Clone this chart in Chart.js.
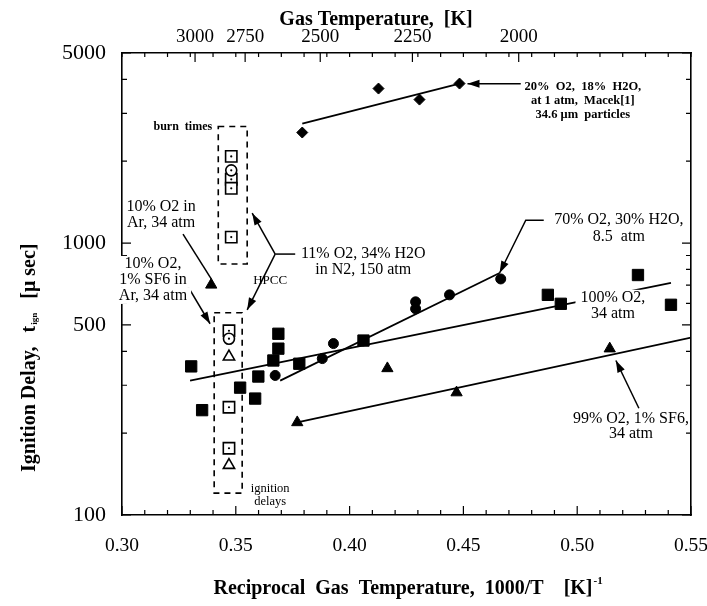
<!DOCTYPE html>
<html>
<head>
<meta charset="utf-8">
<script src="https://cdn.jsdelivr.net/npm/chart.js@4/dist/chart.umd.min.js"></script>
<style>
html,body{margin:0;padding:0;background:#fff;}
#wrap{width:707px;height:606px;position:relative;}
</style>
</head>
<body>
<div id="wrap"><canvas id="c" width="707" height="606"></canvas></div>
<script>
// ---------------- DATA ----------------
// 20% O2, 18% H2O, 1 atm, Macek [1] (filled diamonds)
const macekX = [0.3792, 0.4127, 0.4307, 0.4483];
const macekY = [2550, 3700, 3370, 3860];
const macekFitX = [0.3792, 0.4483];
const macekFitY = [2750, 3860];

// 70% O2, 30% H2O, 8.5 atm (filled circles)
const h2oX = [0.3673, 0.3880, 0.3929, 0.4061, 0.4290, 0.4290, 0.4439, 0.4664];
const h2oY = [326, 376, 427, 437, 608, 573, 645, 738];
const h2oFitX = [0.3695, 0.4659];
const h2oFitY = [312, 776];

// 100% O2, 34 atm (filled squares)
const o2X = [0.3304, 0.3352, 0.3519, 0.3585, 0.3599, 0.3665, 0.3687, 0.3687, 0.3779, 0.4061, 0.4871, 0.4928, 0.5267, 0.5412];
const o2Y = [352, 243, 294, 268, 323, 370, 409, 464, 360, 438, 645, 598, 763, 593];
const o2FitX = [0.3299, 0.5412];
const o2FitY = [312, 714];

// 99% O2, 1% SF6, 34 atm (filled triangles)
const sf6X = [0.3770, 0.4166, 0.4470, 0.5143];
const sf6Y = [219, 346, 282, 409];
const sf6FitX = [0.3770, 0.5500];
const sf6FitY = [219, 449];

// 10% O2 in Ar, 34 atm (filled triangle)
const arX = [0.3392];
const arY = [702];

// HPCC, 11% O2, 34% H2O in N2, 150 atm (open symbols)
const burnSqX = [0.348, 0.348, 0.348, 0.348];
const burnSqY = [2083, 1716, 1590, 1052];
const burnCircX = [0.348];
const burnCircY = [1851];
const ignSqX = [0.347, 0.347, 0.347];
const ignSqY = [476, 249, 176];
const ignCircX = [0.347];
const ignCircY = [445];
const ignTriX = [0.347, 0.347];
const ignTriY = [382, 152.5];

// tick labels
const xTickLabels = ['0.30', '0.35', '0.40', '0.45', '0.50', '0.55'];
const yTickLabels = ['100', '500', '1000', '5000'];
const tempLabels = ['3000', '2750', '2500', '2250', '2000'];
const tempTickPos = [0.3321, 0.3541, 0.3871, 0.4276, 0.4743];

// ---------------- HELPERS ----------------
const SERIF = "'Liberation Serif','Times New Roman',serif";
const pts = (xs, ys) => xs.map((x, i) => ({ x: x, y: ys[i] }));
const xMajorVals = xTickLabels.map(parseFloat);
const yMajorVals = yTickLabels.map(Number);
const xMinorTicks = [];
for (let i = 0; i <= 25; i++) xMinorTicks.push(+(0.30 + i * 0.01).toFixed(2));
const yMinorTicks = [];
for (let d = 100; d <= 1000; d *= 10) for (let m = 1; m <= 9; m++) { const v = m * d; if (v <= 5000) yMinorTicks.push(v); }
const isXMajor = v => xMajorVals.some(m => Math.abs(m - v) < 1e-6);
const isYMajor = v => yMajorVals.some(m => Math.abs(m - v) < 1e-6);

// annotations (data coordinates)
const boxes = [
  { x0: 0.3423, x1: 0.3550, y0: 838, y1: 2683 },
  { x0: 0.3405, x1: 0.3528, y0: 120.4, y1: 554 }
];
const arrows = [
  { p: [[0.4752, 3855], [0.4518, 3855]], head: true },
  { p: [[0.4853, 1214], [0.4774, 1214], [0.4659, 776]], head: true },
  { p: [[0.3268, 1079], [0.3392, 738]], head: false },
  { p: [[0.3260, 763], [0.3387, 505]], head: true },
  { p: [[0.3761, 911], [0.3673, 911]], head: false },
  { p: [[0.3673, 911], [0.3572, 1288]], head: true },
  { p: [[0.3673, 911], [0.3550, 568]], head: true },
  { p: [[0.5271, 247], [0.5170, 370]], head: true }
];
const notes = [
  { lines: ['20%  O2,  18%  H2O,', 'at 1 atm,  Macek[1]', '34.6 \u03bcm  particles'], x: 0.5025, y: 3760, font: 'bold 12.5px', lh: 14, align: 'center' },
  { lines: ['70% O2, 30% H2O,', '8.5  atm'], x: 0.5183, y: 1214, font: '16px', lh: 17, align: 'center' },
  { lines: ['100% O2,', '34 atm'], x: 0.5157, y: 629, font: '16px', lh: 16, align: 'center', bg: [0] },
  { lines: ['99% O2, 1% SF6,', '34 atm'], x: 0.5236, y: 226.6, font: '16px', lh: 15, align: 'center' },
  { lines: ['11% O2, 34% H2O', 'in N2, 150 atm'], x: 0.4060, y: 911, font: '16px', lh: 16, align: 'center' },
  { lines: ['10% O2 in', 'Ar, 34 atm'], x: 0.3172, y: 1355, font: '16px', lh: 16, align: 'center' },
  { lines: ['10% O2,', '1% SF6 in', 'Ar, 34 atm'], x: 0.3136, y: 838, font: '16px', lh: 16, align: 'center', bg: [0, 1, 2] },
  { lines: ['HPCC'], x: 0.3651, y: 726, font: '13px', lh: 14, align: 'center' },
  { lines: ['burn  times'], x: 0.3396, y: 2683, font: 'bold 12px', lh: 14, align: 'right' },
  { lines: ['ignition', 'delays'], x: 0.3651, y: 124.5, font: '12.5px', lh: 13, align: 'center' }
];

// ---------------- PLUGINS ----------------
const decorPlugin = {
  id: 'decor',
  afterDraw(chart) {
    const { ctx, chartArea: a, scales } = chart;
    const X = v => scales.x.getPixelForValue(v);
    const Y = v => scales.y.getPixelForValue(v);
    ctx.save();
    ctx.strokeStyle = '#000';
    ctx.fillStyle = '#000';

    // inward ticks
    ctx.lineWidth = 1.2;
    ctx.beginPath();
    xMinorTicks.forEach(v => {
      const px = X(v);
      const L = isXMajor(v) ? 9 : 5;
      ctx.moveTo(px, a.bottom); ctx.lineTo(px, a.bottom - L);
      ctx.moveTo(px, a.top); ctx.lineTo(px, a.top + 4);
    });
    tempTickPos.forEach(v => {
      const px = scales.x2.getPixelForValue(v);
      ctx.moveTo(px, a.top); ctx.lineTo(px, a.top + 9);
    });
    yMinorTicks.forEach(v => {
      const py = Y(v);
      const L = isYMajor(v) ? 9 : 5;
      ctx.moveTo(a.left, py); ctx.lineTo(a.left + L, py);
      ctx.moveTo(a.right, py); ctx.lineTo(a.right - L, py);
    });
    ctx.stroke();

    // dashed boxes
    ctx.lineWidth = 1.6;
    ctx.setLineDash([6, 5]);
    boxes.forEach(b => {
      ctx.strokeRect(X(b.x0), Y(b.y1), X(b.x1) - X(b.x0), Y(b.y0) - Y(b.y1));
    });
    ctx.setLineDash([]);

    // arrows
    ctx.lineWidth = 1.5;
    arrows.forEach(ar => {
      const pp = ar.p.map(q => [X(q[0]), Y(q[1])]);
      ctx.beginPath();
      ctx.moveTo(pp[0][0], pp[0][1]);
      for (let i = 1; i < pp.length; i++) ctx.lineTo(pp[i][0], pp[i][1]);
      ctx.stroke();
      if (ar.head) {
        const [x1, y1] = pp[pp.length - 1];
        const [x0, y0] = pp[pp.length - 2];
        const ang = Math.atan2(y1 - y0, x1 - x0);
        const L = 12, W = 4;
        ctx.beginPath();
        ctx.moveTo(x1, y1);
        ctx.lineTo(x1 - L * Math.cos(ang) + W * Math.sin(ang), y1 - L * Math.sin(ang) - W * Math.cos(ang));
        ctx.lineTo(x1 - L * Math.cos(ang) - W * Math.sin(ang), y1 - L * Math.sin(ang) + W * Math.cos(ang));
        ctx.closePath();
        ctx.fill();
      }
    });

    // notes
    notes.forEach(n => {
      ctx.font = n.font + ' ' + SERIF;
      ctx.textAlign = n.align;
      ctx.textBaseline = 'middle';
      const px = X(n.x), py = Y(n.y);
      n.lines.forEach((t, i) => {
        const yy = py + i * n.lh;
        if (n.bg && n.bg.includes(i)) {
          const w = ctx.measureText(t).width;
          ctx.fillStyle = '#fff';
          ctx.fillRect(px - w / 2 - 5, yy - 8, w + 9, n.lh);
          ctx.fillStyle = '#000';
        }
        ctx.fillText(t, px, yy);
      });
    });

    // axis titles
    ctx.textBaseline = 'middle';
    ctx.font = 'bold 20px ' + SERIF;
    ctx.textAlign = 'center';
    ctx.fillText('Gas Temperature,  [K]', 376, 20);
    ctx.textAlign = 'left';
    const bt = 'Reciprocal  Gas  Temperature,  1000/T    [K]';
    const bw = ctx.measureText(bt).width;
    const bx = 408 - (bw + 10) / 2;
    ctx.fillText(bt, bx, 589);
    ctx.font = 'bold 11px ' + SERIF;
    ctx.fillText('-1', bx + bw + 1, 581);
    ctx.save();
    ctx.translate(30, 472);
    ctx.rotate(-Math.PI / 2);
    ctx.font = 'bold 20px ' + SERIF;
    ctx.textAlign = 'left';
    let cx = 0;
    ctx.fillText('Ignition Delay,', cx, 0);
    cx += ctx.measureText('Ignition Delay,').width + 14;
    ctx.fillText('t', cx, 0);
    cx += ctx.measureText('t').width + 1;
    ctx.font = 'bold 9px ' + SERIF;
    ctx.fillText('ign', cx, 5);
    cx += ctx.measureText('ign').width + 14;
    ctx.font = 'bold 20px ' + SERIF;
    ctx.fillText('[\u03bc sec]', cx, 0);
    ctx.restore();
    ctx.restore();
  }
};

// ---------------- CHART ----------------
const filled = (label, xs, ys, style, r, order) => ({
  label, data: pts(xs, ys), pointStyle: style, pointRadius: r,
  backgroundColor: '#000', borderColor: '#000', borderWidth: 1, showLine: false, order
});
const open = (label, xs, ys, style, r, order) => ({
  label, data: pts(xs, ys), pointStyle: style, pointRadius: r,
  backgroundColor: '#fff', borderColor: '#000', borderWidth: 1.6, showLine: false, order
});
const fit = (label, xs, ys) => ({
  label, data: pts(xs, ys), showLine: true, pointRadius: 0, borderColor: '#000',
  borderWidth: 1.8, fill: false, order: 20
});

const datasets = [
  { label: 'centre dots', data: [].concat(pts(burnSqX, burnSqY), pts(burnCircX, burnCircY), pts(ignSqX, ignSqY), pts(ignCircX, ignCircY)),
    pointStyle: 'circle', pointRadius: 1.1, backgroundColor: '#000', borderWidth: 0, showLine: false, order: 0 },
  open('HPCC burn circle', burnCircX, burnCircY, 'circle', 5.5, 1),
  open('HPCC burn squares', burnSqX, burnSqY, 'rect', 8, 2),
  open('HPCC ignition circle', ignCircX, ignCircY, 'circle', 5.5, 1),
  open('HPCC ignition squares', ignSqX, ignSqY, 'rect', 8, 2),
  open('HPCC ignition triangles', ignTriX, ignTriY, 'triangle', 6.5, 2),
  filled('20% O2, 18% H2O, 1 atm', macekX, macekY, 'rectRot', 5.5, 3),
  filled('70% O2, 30% H2O, 8.5 atm', h2oX, h2oY, 'circle', 5, 3),
  filled('100% O2, 34 atm', o2X, o2Y, 'rect', 8, 4),
  filled('99% O2, 1% SF6, 34 atm', sf6X, sf6Y, 'triangle', 6.5, 3),
  filled('10% O2 in Ar, 34 atm', arX, arY, 'triangle', 6.5, 3),
  fit('fit Macek', macekFitX, macekFitY),
  fit('fit 70% O2', h2oFitX, h2oFitY),
  fit('fit 100% O2', o2FitX, o2FitY),
  fit('fit 99% O2', sf6FitX, sf6FitY)
];

const yFont = { family: SERIF, size: 22 };
const xFont = { family: SERIF, size: 19.5 };
const topFont = { family: SERIF, size: 19 };
const noPadX = s => { s.paddingLeft = 0; s.paddingRight = 0; };
const noPadY = s => { s.paddingTop = 0; s.paddingBottom = 0; };
new Chart(document.getElementById('c'), {
  type: 'scatter',
  data: { datasets },
  options: {
    responsive: false,
    animation: false,
    events: [],
    devicePixelRatio: 1,
    layout: { padding: 0 },
    plugins: { legend: { display: false }, tooltip: { enabled: false }, title: { display: false } },
    scales: {
      x: {
        type: 'linear', position: 'bottom', min: 0.30, max: 0.55,
        afterBuildTicks: s => { s.ticks = xMinorTicks.map(v => ({ value: v })); },
        afterFit: s => { s.height = 91; noPadX(s); },
        ticks: {
          autoSkip: false, maxRotation: 0, minRotation: 0, padding: 19, color: '#000', font: xFont,
          callback: v => { const i = xMajorVals.findIndex(m => Math.abs(m - v) < 1e-6); return i >= 0 ? xTickLabels[i] : ''; }
        },
        grid: { drawOnChartArea: false, drawTicks: false },
        border: { display: true, color: '#000', width: 1.6 }
      },
      x2: {
        type: 'linear', position: 'top', min: 0.30, max: 0.55,
        afterBuildTicks: s => { s.ticks = tempTickPos.map(v => ({ value: v })); },
        afterFit: s => { s.height = 53; noPadX(s); },
        ticks: {
          autoSkip: false, maxRotation: 0, minRotation: 0, padding: 5, color: '#000', font: topFont,
          callback: (v, i) => tempLabels[i]
        },
        grid: { drawOnChartArea: false, drawTicks: false },
        border: { display: true, color: '#000', width: 1.6 }
      },
      y: {
        type: 'logarithmic', position: 'left', min: 100, max: 5000,
        afterBuildTicks: s => { s.ticks = yMinorTicks.map(v => ({ value: v })); },
        afterFit: s => { s.width = 122; noPadY(s); },
        ticks: {
          autoSkip: false, padding: 16, color: '#000', font: yFont,
          callback: v => { const i = yMajorVals.findIndex(m => Math.abs(m - v) < 1e-6); return i >= 0 ? yTickLabels[i] : ''; }
        },
        grid: { drawOnChartArea: false, drawTicks: false },
        border: { display: true, color: '#000', width: 1.6 }
      },
      y2: {
        type: 'logarithmic', position: 'right', min: 100, max: 5000,
        afterFit: s => { s.width = 16; noPadY(s); },
        ticks: { display: false },
        grid: { drawOnChartArea: false, drawTicks: false },
        border: { display: true, color: '#000', width: 1.6 }
      }
    }
  },
  plugins: [decorPlugin]
});
</script>
</body>
</html>
